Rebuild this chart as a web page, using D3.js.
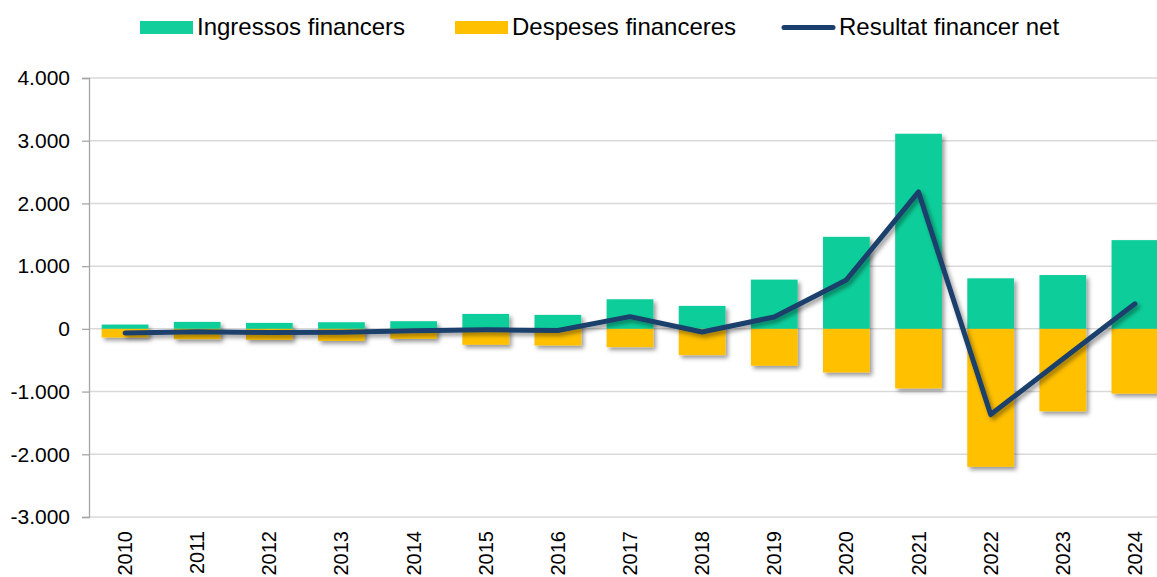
<!DOCTYPE html>
<html>
<head>
<meta charset="utf-8">
<script src="https://cdn.jsdelivr.net/npm/d3@7"></script>
<style>
  body { margin: 0; background: #fff; }
  svg { display: block; font-family: 'Liberation Sans', Arial, sans-serif; }
</style>
</head>
<body>
<svg id="container"></svg>
<script>
const years = ['2010', '2011', '2012', '2013', '2014', '2015', '2016', '2017',
  '2018', '2019', '2020', '2021', '2022', '2023', '2024'];
const ingressos = [68, 111, 95, 106, 122, 238, 223, 472, 366, 785, 1467, 3111, 806, 858, 1415];
const despeses = [-138, -164, -175, -191, -159, -254, -265, -291, -418, -588, -695, -949, -2200, -1315, -1033];
const resultat = [-65, -45, -60, -55, -30, -15, -25, 195, -50, 190, 780, 2183, -1367, -480, 400];
const yTicks = [-3000, -2000, -1000, 0, 1000, 2000, 3000, 4000];
const legendLabels = ['Ingressos financers', 'Despeses financeres', 'Resultat financer net'];

const colors = { ing: '#11CE9A', des: '#FFC000', net: '#1B3F6C' };

const W = 1157, H = 577;
const margin = { top: 78, left: 89 };
const w = 1082, h = 439;

const svg = d3.select('#container').attr('width', W).attr('height', H);

// drop shadow like the original chart
const defs = svg.append('defs');
const f = defs.append('filter').attr('id', 'shadow')
  .attr('x', '-20%').attr('y', '-20%').attr('width', '150%').attr('height', '150%');
f.append('feDropShadow').attr('dx', 2.5).attr('dy', 3).attr('stdDeviation', 2.2)
  .attr('flood-color', '#000').attr('flood-opacity', 0.4);

const g = svg.append('g').attr('transform', 'translate(' + margin.left + ',' + margin.top + ')');

const x = d3.scaleBand().domain(years).range([0, w]).paddingInner(0.352).paddingOuter(0.176);
const y = d3.scaleLinear().domain([-3000, 4000]).range([h, 0]);

// gridlines
g.append('g').selectAll('line').data(yTicks).enter().append('line')
  .attr('x1', 0).attr('x2', w)
  .attr('y1', (d) => y(d)).attr('y2', (d) => y(d))
  .attr('stroke', '#D9D9D9').attr('stroke-width', 1.5);

// y axis, thousands with a dot, plain hyphen for minus
const yAxis = d3.axisLeft(y).tickValues(yTicks).tickSize(7).tickPadding(12)
  .tickFormat((d) => d3.format(',')(d).replace(/,/g, '.').replace('\u2212', '-'));
const gY = g.append('g').call(yAxis);
gY.select('.domain').attr('stroke', '#A6A6A6').attr('stroke-width', 1.3);
gY.selectAll('.tick line').attr('stroke', '#A6A6A6').attr('stroke-width', 1.3);
gY.selectAll('.tick text').attr('font-size', 21).attr('fill', '#000')
  .attr('font-family', "'Liberation Sans', Arial, sans-serif");

// bars
const bars = g.append('g').attr('filter', 'url(#shadow)');
bars.selectAll('.ing').data(ingressos).enter().append('rect')
  .attr('class', 'ing')
  .attr('x', (d, i) => x(years[i]))
  .attr('width', x.bandwidth())
  .attr('y', (d) => y(d))
  .attr('height', (d) => y(0) - y(d))
  .attr('fill', colors.ing);
bars.selectAll('.des').data(despeses).enter().append('rect')
  .attr('class', 'des')
  .attr('x', (d, i) => x(years[i]))
  .attr('width', x.bandwidth())
  .attr('y', y(0))
  .attr('height', (d) => y(d) - y(0))
  .attr('fill', colors.des);

// net line
const line = d3.line()
  .x((d, i) => x(years[i]) + x.bandwidth() / 2)
  .y((d) => y(d));
g.append('path').datum(resultat)
  .attr('d', line)
  .attr('fill', 'none')
  .attr('stroke', colors.net)
  .attr('stroke-width', 5)
  .attr('stroke-linejoin', 'round')
  .attr('stroke-linecap', 'round')
  .attr('filter', 'url(#shadow)');

// x labels, rotated
g.append('g').selectAll('text').data(years).enter().append('text')
  .attr('transform', (d) => 'translate(' + (x(d) + x.bandwidth() / 2 + 7) + ',' + (h + 14) + ') rotate(-90)')
  .attr('text-anchor', 'end')
  .attr('font-size', 20)
  .attr('fill', '#000')
  .text((d) => d);

// legend
const legendX = [140, 455, 782];
const leg = svg.append('g');
legendLabels.forEach((lab, i) => {
  const lg = leg.append('g').attr('transform', 'translate(' + legendX[i] + ',0)');
  if (i < 2) {
    lg.append('rect').attr('x', 0).attr('y', 21).attr('width', 53).attr('height', 13)
      .attr('fill', i === 0 ? colors.ing : colors.des);
  } else {
    lg.append('line').attr('x1', 2).attr('x2', 51).attr('y1', 27.5).attr('y2', 27.5)
      .attr('stroke', colors.net).attr('stroke-width', 5).attr('stroke-linecap', 'round');
  }
  lg.append('text').attr('x', 57).attr('y', 34.5)
    .attr('font-size', 24).attr('fill', '#000').text(lab);
});
</script>
</body>
</html>
